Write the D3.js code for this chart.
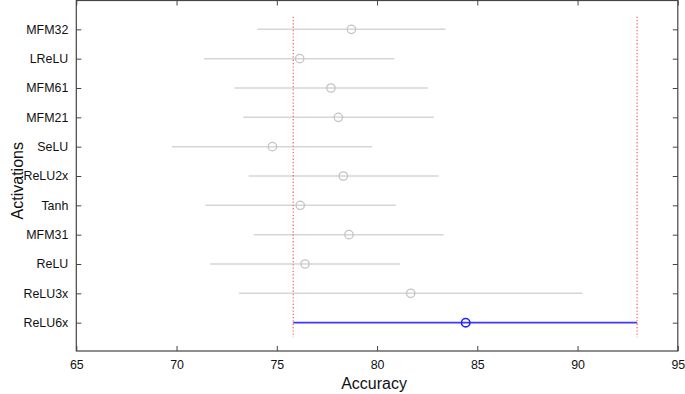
<!DOCTYPE html>
<html>
<head>
<meta charset="utf-8">
<script src="https://cdn.jsdelivr.net/npm/d3@7"></script>
<style>
  body { margin: 0; background: #fff; }
  svg { display: block; font-family: "Liberation Sans", Arial, sans-serif; }
  .axis path { display: none; }
  .axis line { stroke: #444; }
  .axis text { font-size: 12.4px; fill: #111; }
</style>
</head>
<body>
<div id="chart"></div>
<script>
// group names, top to bottom
var activations = ["MFM32", "LReLU", "MFM61", "MFM21", "SeLU", "ReLU2x", "Tanh", "MFM31", "ReLU", "ReLU3x", "ReLU6x"];
// comparison interval: lower end, mean, upper end
var lower = [74.03, 71.37, 72.88, 73.33, 69.76, 73.60, 71.44, 73.85, 71.67, 73.11, 75.82];
var means = [78.72, 76.14, 77.70, 78.07, 74.78, 78.32, 76.17, 78.60, 76.41, 81.68, 84.42];
var upper = [83.42, 80.86, 82.53, 82.83, 79.76, 83.07, 80.93, 83.32, 81.15, 90.24, 92.97];
var selected = "ReLU6x";
var xTicks = [65, 70, 75, 80, 85, 90, 95];

var W = 685, H = 394;
var margin = {top: 0.5, right: 7.2, bottom: 43, left: 76.3};
var width = W - margin.left - margin.right;
var height = H - margin.top - margin.bottom;

var svg = d3.select("#chart").append("svg")
    .attr("width", W)
    .attr("height", H)
    .append("g")
    .attr("transform", "translate(" + margin.left + "," + margin.top + ")");

var x = d3.scaleLinear().domain([65, 95]).range([0, width]);
var y = d3.scaleLinear().domain([0, 12]).range([-0.5, height + 1]);

var data = activations.map(function(name, i) {
    return {name: name, pos: i + 1, lo: lower[i], m: means[i], hi: upper[i]};
});
var sel = data.filter(function(d) { return d.name == selected; })[0];

// intervals
var rows = svg.selectAll(".row")
    .data(data)
    .enter().append("g")
    .attr("class", "row");

rows.append("line")
    .attr("x1", function(d) { return x(d.lo); })
    .attr("x2", function(d) { return x(d.hi); })
    .attr("y1", function(d) { return y(d.pos); })
    .attr("y2", function(d) { return y(d.pos); })
    .attr("stroke", function(d) { return d.name == selected ? "#3b3bff" : "#d6d6d6"; })
    .attr("stroke-width", function(d) { return d.name == selected ? 1.8 : 1.5; });

// red limits of the selected group
svg.selectAll(".limit")
    .data([sel.lo, sel.hi])
    .enter().append("line")
    .attr("class", "limit")
    .attr("x1", function(d) { return x(d); })
    .attr("x2", function(d) { return x(d); })
    .attr("y1", y(0.57))
    .attr("y2", y(11.5))
    .attr("stroke", "#ff6a6a")
    .attr("stroke-width", 1.3)
    .attr("stroke-dasharray", "1.3,2");

rows.append("circle")
    .attr("cx", function(d) { return x(d.m); })
    .attr("cy", function(d) { return y(d.pos); })
    .attr("r", 4.2)
    .attr("fill", "none")
    .attr("stroke", function(d) { return d.name == selected ? "#2222ff" : "#c4c4c4"; })
    .attr("stroke-width", function(d) { return d.name == selected ? 1.6 : 1.3; });

// axes, ticks pointing inward
svg.append("g")
    .attr("class", "axis")
    .attr("transform", "translate(0," + height + ")")
    .call(d3.axisBottom(x).tickValues(xTicks).tickSize(-5).tickPadding(9).tickFormat(d3.format("d")));

svg.append("g")
    .attr("class", "axis")
    .call(d3.axisTop(x).tickValues(xTicks).tickSize(-5).tickFormat(""));

svg.append("g")
    .attr("class", "axis")
    .call(d3.axisLeft(y).tickValues(d3.range(1, 12)).tickSize(-5).tickPadding(8)
        .tickFormat(function(d) { return activations[d - 1]; }));

svg.append("g")
    .attr("class", "axis")
    .attr("transform", "translate(" + width + ",0)")
    .call(d3.axisRight(y).tickValues(d3.range(1, 12)).tickSize(-5).tickFormat(""));

svg.append("rect")
    .attr("width", width)
    .attr("height", height)
    .attr("fill", "none")
    .attr("stroke", "#444")
    .attr("stroke-width", 1.2);

// axis titles
svg.append("text")
    .attr("text-anchor", "middle")
    .attr("x", width / 2 - 3)
    .attr("y", height + 38)
    .attr("font-size", "16px")
    .attr("fill", "#111")
    .text("Accuracy");

svg.append("text")
    .attr("text-anchor", "middle")
    .attr("transform", "translate(" + (-margin.left + 22.5) + "," + (height / 2 + 5) + ")rotate(-90)")
    .attr("font-size", "16px")
    .attr("fill", "#111")
    .text("Activations");
</script>
</body>
</html>
